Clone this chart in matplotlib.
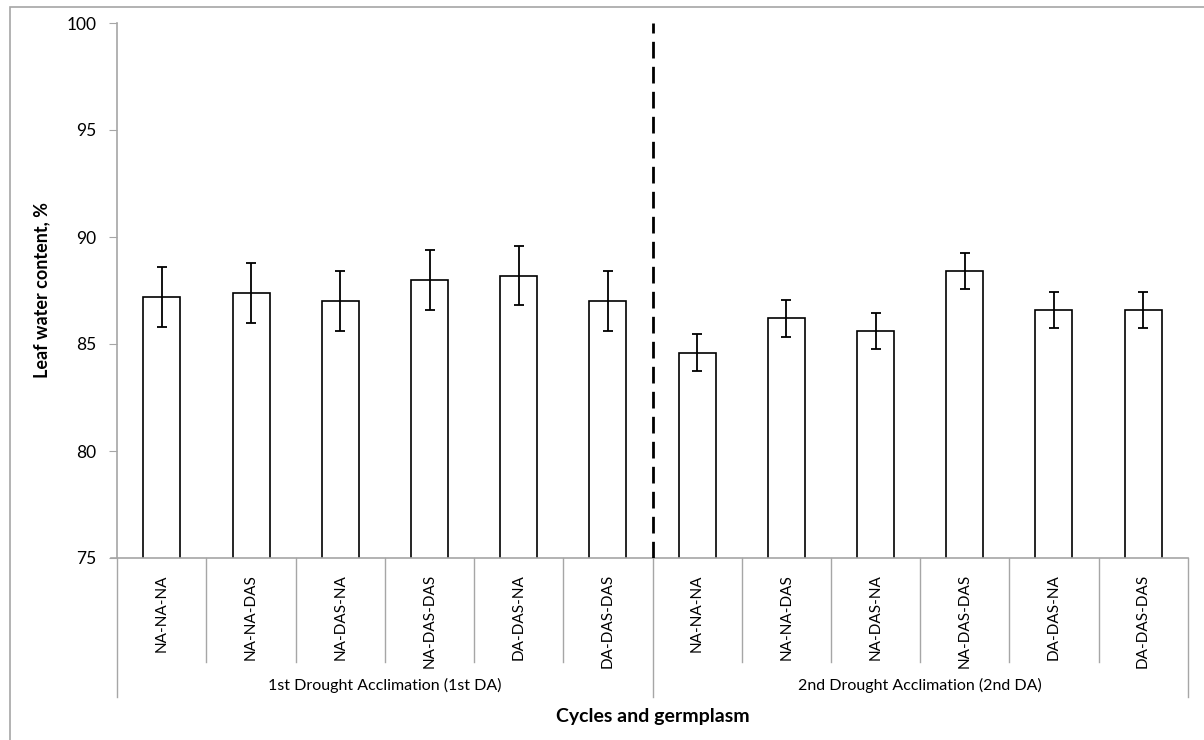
import numpy as np
import matplotlib.pyplot as plt
from matplotlib.patches import Rectangle

plt.rcParams['font.family'] = ['Lato', 'DejaVu Sans']

germplasm = ["NA-NA-NA", "NA-NA-DAS", "NA-DAS-NA", "NA-DAS-DAS", "DA-DAS-NA", "DA-DAS-DAS"]
groups = ["1st Drought Acclimation (1st DA)", "2nd Drought Acclimation (2nd DA)"]
lwc_1st = [87.2, 87.4, 87.0, 88.0, 88.2, 87.0]
err_1st = [1.4, 1.4, 1.4, 1.4, 1.4, 1.4]
lwc_2nd = [84.6, 86.2, 85.6, 88.4, 86.6, 86.6]
err_2nd = [0.85, 0.85, 0.85, 0.85, 0.85, 0.85]

vals = lwc_1st + lwc_2nd
errs = err_1st + err_2nd
labels = germplasm + germplasm
x = np.arange(len(vals))

fig = plt.figure(figsize=(12.04, 7.40), dpi=100)
ax = fig.add_axes([117.3/1204, 1-558/740, (1187.7-117.3)/1204, (558-23)/740])

# outer frame of the figure
fig.patches.append(Rectangle((10/1204, -0.05), 1.1, 1-7/740+0.05, transform=fig.transFigure,
                             fill=False, edgecolor="#a6a6a6", lw=1.2))

ax.bar(x, vals, width=0.415, color="white", edgecolor="black", lw=1.2, zorder=2)
ax.errorbar(x, vals, yerr=errs, fmt="none", ecolor="black", elinewidth=1.3,
            capsize=3.5, capthick=1.3, zorder=3)
ax.axvline(5.5, color="black", lw=2, ls=(0, (6, 3)), zorder=4)

ax.set_ylim(75, 100)
ax.set_xlim(-0.5, 11.5)
ax.set_yticks([75, 80, 85, 90, 95, 100])
ax.tick_params(axis="y", direction="out", length=6, color="#a6a6a6", labelsize=12.5, pad=9)
ax.set_xticks([])
for s in ["top", "right"]:
    ax.spines[s].set_visible(False)
ax.spines["left"].set_color("#a6a6a6")
ax.spines["bottom"].set_color("#a6a6a6")
ax.spines["left"].set_linewidth(1.2)
ax.spines["bottom"].set_linewidth(1.2)

ax.set_ylabel("Leaf water content, %", fontsize=13, fontweight="bold", labelpad=12)

# multi level category axis
tr = ax.get_xaxis_transform()
for b in np.arange(-0.5, 12, 1):
    low = -0.2598 if b in (-0.5, 5.5, 11.5) else -0.1944
    ax.plot([b, b], [0, low], transform=tr, color="#a6a6a6", lw=1, clip_on=False)
ax.plot([-0.57, -0.5], [0, 0], transform=tr, color="#a6a6a6", lw=1.2, clip_on=False)
for i, lab in enumerate(labels):
    ax.text(i, -0.03, lab, transform=tr, rotation=90, ha="center", va="top", fontsize=11)
ax.text(2.5, -0.239, groups[0], transform=tr, ha="center", va="center", fontsize=11.5)
ax.text(8.5, -0.239, groups[1], transform=tr, ha="center", va="center", fontsize=11.5)
ax.text(5.5, -0.297, "Cycles and germplasm", transform=tr, ha="center", va="center",
        fontsize=14, fontweight="bold")

fig.savefig("out.png", dpi=100)
